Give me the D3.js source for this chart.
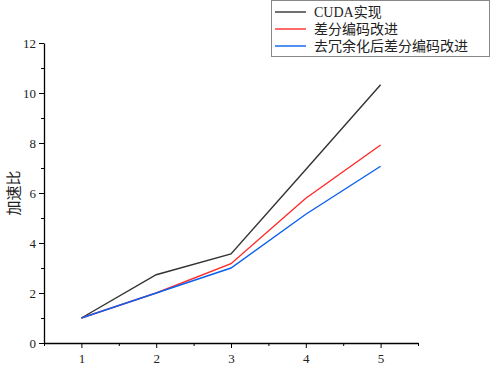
<!DOCTYPE html>
<html>
<head>
<meta charset="utf-8">
<script src="https://cdn.jsdelivr.net/npm/d3@7"></script>
<style>
  body { margin: 0; background: #fff; }
  svg text { font-family: "Liberation Serif", "Noto Sans CJK SC", serif; }
</style>
</head>
<body>
<script>
// data
var xs = [1, 2, 3, 4, 5];
var cuda = [1, 2.73, 3.56, 6.94, 10.33];
var diff = [1, 2.0, 3.17, 5.79, 7.92];
var dedup = [1, 2.0, 3.0, 5.15, 7.07];
var seriesNames = ["CUDA实现", "差分编码改进", "去冗余化后差分编码改进"];
var seriesColors = ["#333333", "#ff2a2a", "#0a60f0"];
var yTicks = [0, 2, 4, 6, 8, 10, 12];

var w_svg = 491, h_svg = 368;
var padL = 44, padR = 418, padT = 43, padB = 343;

var svg = d3.select("body").append("svg")
  .attr("width", w_svg).attr("height", h_svg);

var xScale = d3.scaleLinear().domain([0.5, 5.5]).range([padL, padR]);
var yScale = d3.scaleLinear().domain([0, 12]).range([padB, padT]);

// minor ticks
svg.append("g").attr("transform", "translate(0," + padB + ")")
  .call(d3.axisBottom(xScale).tickValues([0.5, 1.5, 2.5, 3.5, 4.5, 5.5]).tickSize(3).tickFormat(""))
  .call(function(g) { g.select(".domain").remove(); });
svg.append("g").attr("transform", "translate(" + padL + ",0)")
  .call(d3.axisLeft(yScale).tickValues([1, 3, 5, 7, 9, 11]).tickSize(3).tickFormat(""))
  .call(function(g) { g.select(".domain").remove(); });

// main axes
var x_axis = d3.axisBottom(xScale).tickValues(xs).tickFormat(d3.format("d"))
  .tickSize(5).tickPadding(6).tickSizeOuter(0);
svg.append("g").attr("transform", "translate(0," + padB + ")")
  .call(x_axis)
  .call(function(g) {
    g.selectAll("text").attr("font-size", 13).attr("fill", "#222");
    g.select(".domain").attr("stroke-width", 1.3);
  });

var y_axis = d3.axisLeft(yScale).tickValues(yTicks).tickFormat(d3.format("d"))
  .tickSize(5).tickPadding(3).tickSizeOuter(0);
svg.append("g").attr("transform", "translate(" + padL + ",0)")
  .call(y_axis)
  .call(function(g) {
    g.selectAll("text").attr("font-size", 13).attr("fill", "#222");
    g.select(".domain").attr("stroke-width", 1.3);
  });

// y label
svg.append("text")
  .attr("transform", "translate(14,193) rotate(-90)")
  .attr("text-anchor", "middle")
  .attr("dy", "0.35em")
  .attr("font-size", 15)
  .style("font-family", "'Noto Sans CJK SC', sans-serif")
  .attr("fill", "#222")
  .text("加速比");

// lines
var line = d3.line()
  .x(function(d, i) { return xScale(xs[i]); })
  .y(function(d) { return yScale(d); });

[cuda, diff, dedup].forEach(function(s, i) {
  svg.append("path")
    .datum(s)
    .attr("d", line)
    .attr("fill", "none")
    .attr("stroke", seriesColors[i])
    .attr("stroke-width", 1.4);
});

// legend
var lg = svg.append("g");
lg.append("rect")
  .attr("x", 271.5).attr("y", 0.5).attr("width", 218).attr("height", 56)
  .attr("fill", "#fff").attr("stroke", "#888").attr("stroke-width", 1);

seriesNames.forEach(function(n, i) {
  var yy = 12 + i * 17;
  lg.append("line")
    .attr("x1", 275).attr("x2", 306).attr("y1", yy).attr("y2", yy)
    .attr("stroke", seriesColors[i]).attr("stroke-width", 1.4);
  lg.append("text")
    .attr("x", 314).attr("y", yy).attr("dy", "0.35em")
    .attr("font-size", 14).attr("fill", "#222")
    .text(n);
});
</script>
</body>
</html>
